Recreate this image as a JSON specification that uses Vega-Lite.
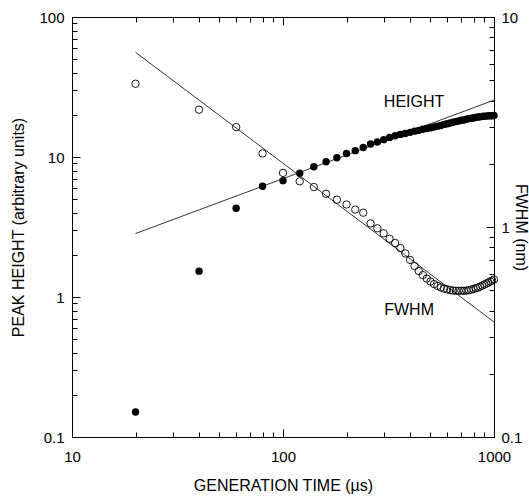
{
  "$schema": "https://vega.github.io/schema/vega-lite/v6.json",
  "width": 422,
  "height": 420,
  "autosize": {"type": "none"},
  "padding": {"left": 72, "top": 17, "right": 35, "bottom": 60},
  "background": "white",
  "config": {
    "view": {"stroke": null},
    "font": "Liberation Sans",
    "axis": {
      "grid": false,
      "domainColor": "black",
      "domainWidth": 1,
      "tickColor": "black",
      "tickWidth": 1,
      "labelColor": "black",
      "titleColor": "black",
      "labelFont": "Liberation Sans",
      "titleFont": "Liberation Sans",
      "labelFontSize": 15,
      "titleFontSize": 16,
      "titleFontWeight": "normal",
      "labelOverlap": false,
      "labelFlush": false,
      "labelBound": false
    }
  },
  "datasets": {
    "height": [
      {"t": 20, "v": 0.151}, {"t": 40, "v": 1.53}, {"t": 60, "v": 4.3}, {"t": 80, "v": 6.18},
      {"t": 100, "v": 6.78}, {"t": 120, "v": 7.65}, {"t": 140, "v": 8.52}, {"t": 160, "v": 9.26},
      {"t": 180, "v": 9.89}, {"t": 200, "v": 10.6}, {"t": 220, "v": 11.1}, {"t": 240, "v": 11.7},
      {"t": 260, "v": 12.4}, {"t": 280, "v": 12.8}, {"t": 300, "v": 13.3}, {"t": 320, "v": 13.8},
      {"t": 340, "v": 14.2}, {"t": 360, "v": 14.5}, {"t": 380, "v": 14.7}, {"t": 400, "v": 15.0},
      {"t": 420, "v": 15.3}, {"t": 440, "v": 15.5}, {"t": 460, "v": 15.8}, {"t": 480, "v": 16.0},
      {"t": 500, "v": 16.2}, {"t": 520, "v": 16.4}, {"t": 540, "v": 16.6}, {"t": 560, "v": 16.8},
      {"t": 580, "v": 17.1}, {"t": 600, "v": 17.3}, {"t": 620, "v": 17.5}, {"t": 640, "v": 17.7},
      {"t": 660, "v": 17.9}, {"t": 680, "v": 18.1}, {"t": 700, "v": 18.3}, {"t": 720, "v": 18.4},
      {"t": 740, "v": 18.6}, {"t": 760, "v": 18.8}, {"t": 780, "v": 18.9}, {"t": 800, "v": 19.0},
      {"t": 820, "v": 19.2}, {"t": 840, "v": 19.3}, {"t": 860, "v": 19.4}, {"t": 880, "v": 19.5},
      {"t": 900, "v": 19.6}, {"t": 920, "v": 19.6}, {"t": 940, "v": 19.7}, {"t": 960, "v": 19.7},
      {"t": 980, "v": 19.7}, {"t": 1000, "v": 19.8}
    ],
    "fwhm": [
      {"t": 20, "v": 4.81}, {"t": 40, "v": 3.62}, {"t": 60, "v": 2.99}, {"t": 80, "v": 2.24},
      {"t": 100, "v": 1.81}, {"t": 120, "v": 1.65}, {"t": 140, "v": 1.55}, {"t": 160, "v": 1.44},
      {"t": 180, "v": 1.35}, {"t": 200, "v": 1.28}, {"t": 220, "v": 1.21}, {"t": 240, "v": 1.17},
      {"t": 260, "v": 1.04}, {"t": 280, "v": 0.986}, {"t": 300, "v": 0.933}, {"t": 320, "v": 0.879},
      {"t": 340, "v": 0.839}, {"t": 360, "v": 0.794}, {"t": 380, "v": 0.748}, {"t": 400, "v": 0.697},
      {"t": 420, "v": 0.652}, {"t": 440, "v": 0.617}, {"t": 460, "v": 0.59}, {"t": 480, "v": 0.568},
      {"t": 500, "v": 0.55}, {"t": 520, "v": 0.535}, {"t": 540, "v": 0.524}, {"t": 560, "v": 0.515},
      {"t": 580, "v": 0.509}, {"t": 600, "v": 0.505}, {"t": 620, "v": 0.501}, {"t": 640, "v": 0.498},
      {"t": 660, "v": 0.497}, {"t": 680, "v": 0.497}, {"t": 700, "v": 0.497}, {"t": 720, "v": 0.497},
      {"t": 740, "v": 0.498}, {"t": 760, "v": 0.5}, {"t": 780, "v": 0.503}, {"t": 800, "v": 0.507},
      {"t": 820, "v": 0.511}, {"t": 840, "v": 0.515}, {"t": 860, "v": 0.52}, {"t": 880, "v": 0.526},
      {"t": 900, "v": 0.532}, {"t": 920, "v": 0.538}, {"t": 940, "v": 0.544}, {"t": 960, "v": 0.55},
      {"t": 980, "v": 0.556}, {"t": 1000, "v": 0.562}
    ],
    "lines": [
      {"series": "HEIGHT", "t": 20, "v": 2.84}, {"series": "HEIGHT", "t": 1000, "v": 25.5},
      {"series": "FWHM", "t": 20, "v": 6.79}, {"series": "FWHM", "t": 1000, "v": 0.353}
    ],
    "labels": [
      {"label": "HEIGHT", "t": 418, "v": 24.7},
      {"label": "FWHM", "t": 396, "v": 0.807}
    ]
  },
  "layer": [
    {
      "data": {"name": "height"},
      "mark": {"type": "point", "shape": "circle", "filled": true, "color": "black", "opacity": 1, "size": 55},
      "encoding": {
        "x": {
          "field": "t", "type": "quantitative",
          "scale": {"type": "log", "domain": [10, 1000], "nice": false},
          "axis": {
            "orient": "bottom",
            "title": "GENERATION TIME (µs)",
            "values": [10, 20, 30, 40, 50, 60, 70, 80, 90, 100, 200, 300, 400, 500, 600, 700, 800, 900, 1000],
            "format": "~g",
            "labelExpr": "indexof([10, 100, 1000], datum.value) >= 0 ? datum.label : ''",
            "tickSize": {"condition": {"test": "indexof([10, 100, 1000], datum.value) >= 0", "value": -8}, "value": -5},
            "labelPadding": 20,
            "titlePadding": 10
          }
        },
        "y": {
          "field": "v", "type": "quantitative",
          "scale": {"type": "log", "domain": [0.1, 100], "nice": false},
          "axis": {
            "orient": "left",
            "title": "PEAK HEIGHT (arbitrary units)",
            "values": [0.1, 0.2, 0.3, 0.4, 0.5, 0.6, 0.7, 0.8, 0.9, 1, 2, 3, 4, 5, 6, 7, 8, 9, 10, 20, 30, 40, 50, 60, 70, 80, 90, 100],
            "format": "~g",
            "labelExpr": "indexof([0.1, 1, 10, 100], datum.value) >= 0 ? datum.label : ''",
            "tickSize": {"condition": {"test": "indexof([0.1, 1, 10, 100], datum.value) >= 0", "value": -8}, "value": -5},
            "labelPadding": 16,
            "titlePadding": 12
          }
        }
      }
    },
    {
      "data": {"name": "height"},
      "mark": {"type": "point", "opacity": 0},
      "encoding": {
        "x": {
          "field": "t", "type": "quantitative",
          "scale": {"type": "log", "domain": [10, 1000], "nice": false},
          "axis": {
            "orient": "top",
            "title": null,
            "labels": false,
            "values": [10, 20, 30, 40, 50, 60, 70, 80, 90, 100, 200, 300, 400, 500, 600, 700, 800, 900, 1000],
            "tickSize": {"condition": {"test": "indexof([10, 100, 1000], datum.value) >= 0", "value": -8}, "value": -5}
          }
        },
        "y": {
          "field": "v", "type": "quantitative",
          "scale": {"type": "log", "domain": [0.1, 100], "nice": false},
          "axis": null
        }
      }
    },
    {
      "data": {"name": "lines"},
      "transform": [{"filter": "datum.series === 'HEIGHT'"}],
      "mark": {"type": "line", "color": "black", "strokeWidth": 0.8},
      "encoding": {
        "x": {"field": "t", "type": "quantitative", "scale": {"type": "log", "domain": [10, 1000], "nice": false}, "axis": null},
        "y": {"field": "v", "type": "quantitative", "scale": {"type": "log", "domain": [0.1, 100], "nice": false}, "axis": null}
      }
    },
    {
      "data": {"name": "fwhm"},
      "mark": {"type": "point", "shape": "circle", "filled": false, "color": "black", "opacity": 1, "strokeWidth": 0.9, "size": 55},
      "encoding": {
        "x": {"field": "t", "type": "quantitative", "scale": {"type": "log", "domain": [10, 1000], "nice": false}, "axis": null},
        "y": {
          "field": "v", "type": "quantitative",
          "scale": {"type": "log", "domain": [0.1, 10], "nice": false},
          "axis": {
            "orient": "right",
            "title": "FWHM (nm)",
            "titleAngle": 90,
            "values": [0.1, 0.2, 0.3, 0.4, 0.5, 0.6, 0.7, 0.8, 0.9, 1, 2, 3, 4, 5, 6, 7, 8, 9, 10],
            "format": "~g",
            "labelExpr": "indexof([0.1, 1, 10], datum.value) >= 0 ? datum.label : ''",
            "tickSize": {"condition": {"test": "indexof([0.1, 1, 10], datum.value) >= 0", "value": -8}, "value": -5},
            "labelPadding": 15,
            "titlePadding": -9
          }
        }
      }
    },
    {
      "data": {"name": "lines"},
      "transform": [{"filter": "datum.series === 'FWHM'"}],
      "mark": {"type": "line", "color": "black", "strokeWidth": 0.8},
      "encoding": {
        "x": {"field": "t", "type": "quantitative", "scale": {"type": "log", "domain": [10, 1000], "nice": false}, "axis": null},
        "y": {"field": "v", "type": "quantitative", "scale": {"type": "log", "domain": [0.1, 10], "nice": false}, "axis": null}
      }
    },
    {
      "data": {"name": "labels"},
      "mark": {"type": "text", "font": "Liberation Sans", "fontSize": 16, "color": "black", "align": "center", "baseline": "middle"},
      "encoding": {
        "x": {"field": "t", "type": "quantitative", "scale": {"type": "log", "domain": [10, 1000], "nice": false}, "axis": null},
        "y": {"field": "v", "type": "quantitative", "scale": {"type": "log", "domain": [0.1, 100], "nice": false}, "axis": null},
        "text": {"field": "label"}
      }
    }
  ],
  "resolve": {
    "scale": {"y": "independent"},
    "axis": {"x": "independent", "y": "independent"}
  }
}
